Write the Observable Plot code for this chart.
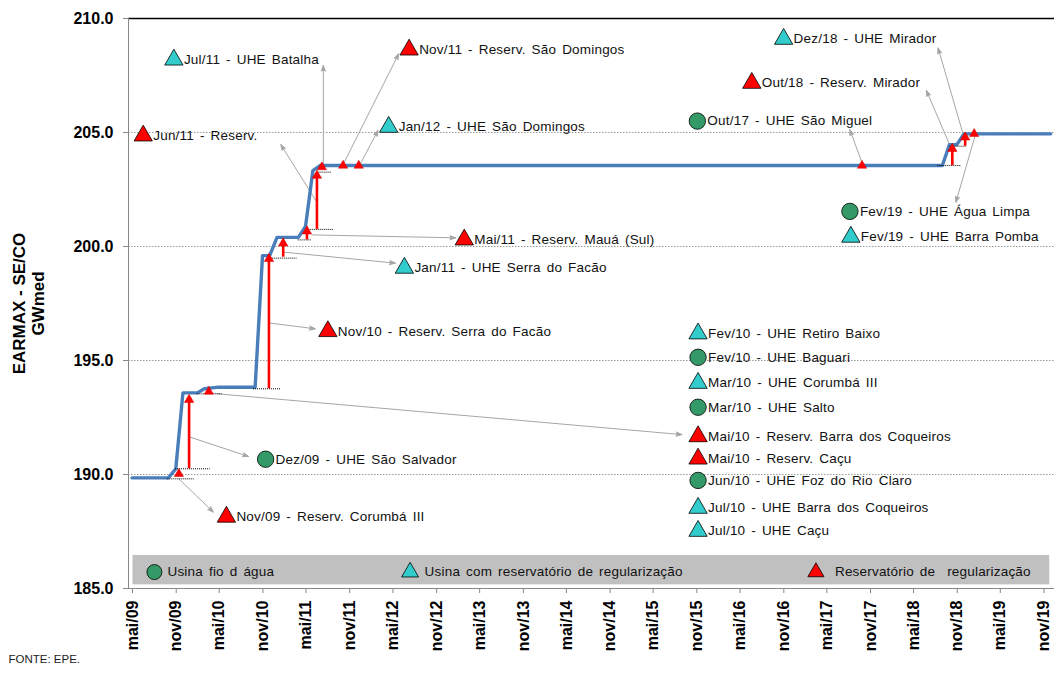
<!DOCTYPE html>
<html><head><meta charset="utf-8">
<script src="https://cdn.jsdelivr.net/npm/d3@7"></script>
<script src="https://cdn.jsdelivr.net/npm/@observablehq/plot@0.6"></script>
<style>
html,body{margin:0;padding:0;background:#fff;}
#chart svg{display:block;}
#chart g[aria-label="y-axis tick label"] text{font-weight:bold;font-size:16px;}
#chart g[aria-label="x-axis tick label"] text{font-weight:bold;font-size:16px;}
</style></head><body><div id="chart"></div>
<script>
// ---------------- data ----------------
// EARMAX monthly key points (GWmed)
const lineDates  = ["2009-05-16","2009-10-16","2009-11-16","2009-12-16","2010-02-15","2010-03-16","2010-05-16","2010-10-16","2010-11-16","2010-12-16","2011-01-16","2011-04-16","2011-05-16","2011-06-16","2011-07-16","2018-09-16","2018-10-16","2018-11-16","2018-12-16","2019-12-16"];
const lineValues = [189.85,189.85,190.25,193.58,193.58,193.76,193.83,193.83,199.6,199.6,200.4,200.4,200.88,203.33,203.55,203.55,204.47,204.47,204.94,204.94];

// red vertical arrows (reservoir filling)
const riseDates = ["2010-01-11","2010-12-13","2011-02-11","2011-05-22","2011-07-03","2018-10-28","2018-12-21"];
const riseFrom  = [190.25,193.76,199.53,200.29,200.75,203.55,204.40];
const riseTo    = [193.28,199.46,200.14,200.67,203.11,204.29,204.79];

// small red triangles on the line
const tagDates  = ["2009-11-29","2010-04-04","2011-07-24","2011-10-21","2011-12-26","2017-10-13","2019-01-28"];
const tagValues = [190.03,193.64,203.48,203.55,203.55,203.55,204.94];

// dotted base levels
const baseValues = [189.81,190.25,193.54,193.76,199.49,200.29,200.75,203.26,203.55,204.40];
const baseStart  = ["2009-10-11","2009-11-15","2010-02-14","2010-10-09","2010-12-27","2011-04-15","2011-06-05","2011-07-08","2018-08-28","2018-10-18"];
const baseEnd    = ["2010-02-01","2010-04-10","2010-05-30","2011-02-01","2011-04-10","2011-06-12","2011-09-10","2011-09-02","2018-12-06","2018-12-27"];

// annotation labels
const labelText = ["Nov/09 - Reserv. Corumbá III","Dez/09 - UHE São Salvador","Nov/10 - Reserv. Serra do Facão","Jan/11 - UHE Serra do Facão","Mai/11 - Reserv. Mauá (Sul)","Jun/11 - Reserv.","Jul/11 - UHE Batalha","Nov/11 - Reserv. São Domingos","Jan/12 - UHE São Domingos","Out/17 - UHE São Miguel","Out/18 - Reserv. Mirador","Dez/18 - UHE Mirador","Fev/19 - UHE Água Limpa","Fev/19 - UHE Barra Pomba","Fev/10 - UHE Retiro Baixo","Fev/10 - UHE Baguari","Mar/10 - UHE Corumbá III","Mar/10 - UHE Salto","Mai/10 - Reserv. Barra dos Coqueiros","Mai/10 - Reserv. Caçu","Jun/10 - UHE Foz do Rio Claro","Jul/10 - UHE Barra dos Coqueiros","Jul/10 - UHE Caçu"];
const labelKind = ["res","fio","res","uhe","res","res","uhe","res","uhe","fio","res","uhe","fio","uhe","uhe","fio","uhe","fio","res","res","fio","uhe","uhe"];
const labelDates = ["2010-06-17","2010-11-29","2011-08-18","2012-07-05","2013-03-14","2009-07-02","2009-11-08","2012-07-25","2012-04-30","2015-11-20","2016-07-06","2016-11-17","2017-08-23","2017-08-27","2015-11-23","2015-11-23","2015-11-23","2015-11-23","2015-11-23","2015-11-23","2015-11-23","2015-11-23","2015-11-23"];
const labelValues = [188.14,190.67,196.28,199.06,200.30,204.86,208.19,208.63,205.24,205.50,207.17,209.10,201.54,200.42,196.18,195.14,194.01,192.95,191.67,190.69,189.74,188.53,187.52];

// gray pointer arrows
const arrowFromDate  = ["2009-11-29","2010-01-15","2010-05-08","2010-12-17","2011-02-17","2011-06-12","2011-07-03","2011-07-30","2011-10-23","2012-01-02","2017-10-12","2018-10-18","2018-12-13","2019-02-01"];
const arrowFromValue = [189.81,191.64,193.54,196.64,199.75,200.51,201.94,203.63,203.63,203.63,203.70,204.43,204.91,204.87];
const arrowToDate    = ["2010-04-23","2010-09-18","2015-09-16","2011-06-26","2012-05-28","2013-02-06","2011-02-01","2011-07-30","2012-06-11","2012-03-16","2017-08-23","2018-07-11","2018-08-29","2018-11-12"];
const arrowToValue   = [188.35,190.79,191.75,196.39,199.27,200.38,204.47,207.94,208.45,205.09,205.12,206.84,208.71,201.94];

// legend
const legendText = ["Usina fio d água","Usina com reservatório de regularização","Reservatório de  regularização"];
const legendKind = ["fio","uhe","res"];
const legendMarkDates = ["2009-08-18","2012-07-29","2017-04-02"];
const legendTextDates = ["2009-10-12","2012-09-28","2017-06-21"];
const legendBand = {x1: "2009-05-20", x2: "2019-12-12", y1: 185.16, y2: 186.45};

// axes
const yTicks = [185,190,195,200,205,210];
const gridValues = [190,195,200,205];
const xTickDates = ["2009-05-01","2009-11-01","2010-05-01","2010-11-01","2011-05-01","2011-11-01","2012-05-01","2012-11-01","2013-05-01","2013-11-01","2014-05-01","2014-11-01","2015-05-01","2015-11-01","2016-05-01","2016-11-01","2017-05-01","2017-11-01","2018-05-01","2018-11-01","2019-05-01","2019-11-01"];
const xTickLabels = ["mai/09","nov/09","mai/10","nov/10","mai/11","nov/11","mai/12","nov/12","mai/13","nov/13","mai/14","nov/14","mai/15","nov/15","mai/16","nov/16","mai/17","nov/17","mai/18","nov/18","mai/19","nov/19"];
const yTitle = "EARMAX - SE/CO\nGWmed";
const caption = "FONTE: EPE.";

// ---------------- build tables ----------------
const D = s => new Date(s + "T00:00:00Z");
const line = lineDates.map((d,i)=>({date:D(d), value:lineValues[i]}));
const rises = riseDates.map((d,i)=>({date:D(d), y1:riseFrom[i], y2:riseTo[i]}));
const tags = tagDates.map((d,i)=>({date:D(d), value:tagValues[i]}));
const bases = baseValues.map((v,i)=>({value:v, x1:D(baseStart[i]), x2:D(baseEnd[i])}));
const labels = labelText.map((t,i)=>({text:t, kind:labelKind[i], date:D(labelDates[i]), value:labelValues[i]}));
const arrows = arrowFromDate.map((d,i)=>({x1:D(d), y1:arrowFromValue[i], x2:D(arrowToDate[i]), y2:arrowToValue[i]}));
const legend = legendText.map((t,i)=>({text:t, kind:legendKind[i], md:D(legendMarkDates[i]), td:D(legendTextDates[i]), value:185.72}));
const tickLabelMap = new Map(xTickDates.map((d,i)=>[+D(d), xTickLabels[i]]));

const COLORS = {fio:"#339966", uhe:"#33CCCC", res:"#FF0000"};
const GRAY = "#a6a6a6";
const FONT = "'Liberation Sans', Arial, Helvetica, sans-serif";

function markers(data, xKey, yKey, big) {
  return [
    Plot.dot(data.filter(d=>d.kind==="fio"), {x:xKey, y:yKey, r: big ? 8.2 : 7.5, fill:COLORS.fio, stroke:"#000", strokeWidth:0.8}),
    Plot.dot(data.filter(d=>d.kind==="uhe"), {x:xKey, y:yKey, symbol:"triangle", r: big ? 6.8 : 6.3, fill:COLORS.uhe, stroke:"#000", strokeWidth:0.8}),
    Plot.dot(data.filter(d=>d.kind==="res"), {x:xKey, y:yKey, symbol:"triangle", r: big ? 6.8 : 6.0, fill:COLORS.res, stroke:"#000", strokeWidth:0.8})
  ];
}

const chart = Plot.plot({
  width: 1054, height: 673,
  marginLeft: 128, marginRight: 0, marginTop: 18, marginBottom: 85,
  style: {fontFamily: FONT, background: "#fff", color: "#000"},
  x: {type: "utc", domain: [D("2009-05-01"), D("2020-01-01")]},
  y: {domain: [185, 210]},
  marks: [
    Plot.ruleY(gridValues, {stroke:"#9a9a9a", strokeDasharray:"1.5,1.5", strokeWidth:1}),
    Plot.rect([legendBand], {x1:d=>D(d.x1), x2:d=>D(d.x2), y1:"y1", y2:"y2", fill:"#c0c0c0"}),
    Plot.ruleY([210], {stroke:"#000", strokeWidth:1.3}),
    Plot.ruleY([185], {stroke:"#888", strokeWidth:1}),
    Plot.ruleX([D("2009-05-01")], {stroke:"#888", strokeWidth:1}),
    Plot.axisY({ticks: yTicks, tickFormat: d3.format(".1f"), tickSize: 5, tickPadding: 10, stroke:"#888", label: null, fontSize: 16, fontWeight: "bold"}),
    Plot.axisX({ticks: xTickDates.map(D), tickFormat: d => tickLabelMap.get(+d), tickRotate: -90, tickSize: 5, tickPadding: 7, dx: 4, stroke:"#888", label: null, fontSize: 16, fontWeight: "bold"}),
    // gray pointer arrows
    Plot.arrow(arrows, {x1:"x1", y1:"y1", x2:"x2", y2:"y2", stroke:GRAY, fill:GRAY, strokeWidth:1, headLength:9, headAngle:40}),
    // EARMAX line
    Plot.line(line, {x:"date", y:"value", stroke:"#4A7EBB", strokeWidth:3.4}),
    // dotted bases
    Plot.ruleY(bases, {y:"value", x1:"x1", x2:"x2", stroke:"#000", strokeDasharray:"1,1", strokeWidth:1}),
    // red rises
    Plot.ruleX(rises, {x:"date", y1:"y1", y2:"y2", stroke:"#FF0000", strokeWidth:2.6}),
    Plot.dot(rises, {x:"date", y:"y2", symbol:"triangle", r:3.5, fill:"#FF0000", stroke:"#d00000", strokeWidth:0.5}),
    Plot.dot(tags, {x:"date", y:"value", symbol:"triangle", r:3.4, fill:"#FF0000", stroke:"#d00000", strokeWidth:0.5}),
    // annotation markers and labels
    ...markers(labels, "date", "value", true),
    Plot.text(labels, {x:"date", y:"value", text:"text", dx:10, textAnchor:"start", fontSize:13.5, fill:"#111"}),
    // legend
    ...markers(legend, "md", "value", false),
    Plot.text(legend, {x:"td", y:"value", text:"text", textAnchor:"start", fontSize:13.5, fill:"#111"}),
    // y title and caption
    Plot.text([yTitle], {frameAnchor:"left", rotate:-90, dx:-100.5, fontSize:17, fontWeight:"bold", lineHeight:1.12, textAnchor:"middle"}),
    Plot.text([caption], {frameAnchor:"bottom-left", dx:-120, dy:74, textAnchor:"start", fontSize:11.5, fill:"#222"})
  ]
});
document.getElementById("chart").appendChild(chart);

// Excel-like wide word spacing for annotation texts
const spaced = new Set([...labelText, ...legendText]);
d3.select(chart).selectAll('g[aria-label="text"] text')
  .filter(function(){ return spaced.has(this.textContent); })
  .style("word-spacing", "2px").style("letter-spacing", "0.2px");
</script></body></html>
